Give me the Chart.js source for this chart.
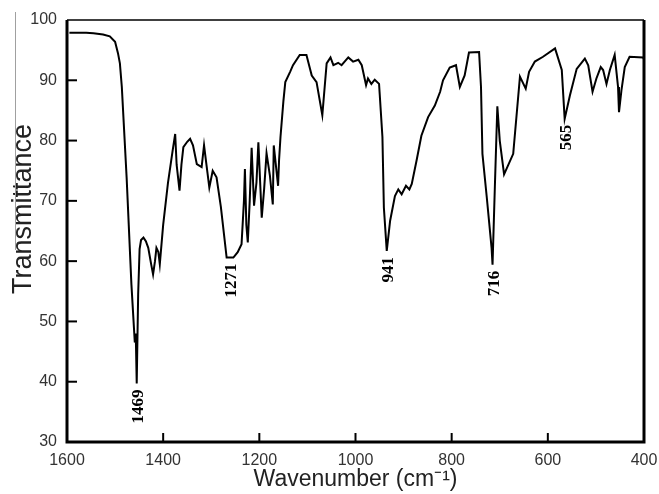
<!DOCTYPE html>
<html>
<head>
<meta charset="utf-8">
<script src="https://cdn.jsdelivr.net/npm/chart.js@4"></script>
<style>
  body { margin: 0; background: #fff; }
  #wrap { width: 659px; height: 494px; }
</style>
</head>
<body>
<div id="wrap"><canvas id="irChart"></canvas></div>
<script>
// spectrum
const wavenumbers = [
    1595, 1560, 1545, 1525, 1511, 1500, 1494, 1490, 1486, 1476, 1466, 1459, 1457, 1455,
    1452, 1449, 1446, 1441, 1436, 1431, 1425, 1421, 1417, 1414, 1410, 1407, 1400, 1390,
    1380, 1375, 1372, 1366, 1362, 1358, 1350, 1344, 1338, 1330, 1320, 1315, 1310, 1304,
    1297, 1289, 1280, 1268, 1254, 1245, 1237, 1232, 1230, 1227, 1224, 1220, 1216, 1211,
    1206, 1202, 1195, 1190, 1185, 1178, 1172, 1170, 1161, 1159, 1156, 1150, 1146, 1136,
    1130, 1116, 1102, 1091, 1081, 1069, 1060, 1052, 1046, 1036, 1029, 1015, 1005, 994,
    987, 978, 974, 967, 960, 951, 944, 941, 935, 928, 918, 911, 904, 895, 888, 883,
    873, 863, 849, 835, 824, 818, 804, 791, 783, 773, 764, 743, 739, 736, 727, 717,
    715, 710, 705, 700, 691, 672, 658, 646, 639, 627, 610, 585, 571, 565, 554, 540,
    523, 516, 507, 499, 490, 485, 478, 471, 461, 454, 452, 447, 440, 430, 402, 400
];
const transmittance = [
    97.9, 97.9, 97.8, 97.6, 97.3, 96.4, 94.5, 92.8, 88.9, 73.9, 56.1, 46.5, 48.0, 39.7,
    54.5, 62.0, 63.5, 63.9, 63.3, 62.2, 59.5, 57.8, 60.0, 62.2, 61.5, 59.5, 66.0, 73.0,
    78.5, 81.1, 76.0, 71.7, 76.0, 78.9, 79.8, 80.3, 79.2, 76.1, 75.6, 79.2, 76.0, 72.2,
    75.0, 73.9, 69.0, 60.6, 60.6, 61.5, 62.8, 70.0, 75.3, 66.0, 63.1, 70.0, 78.8, 69.2,
    73.0, 79.7, 67.2, 72.0, 77.9, 74.2, 69.4, 79.2, 72.5, 76.7, 80.6, 86.5, 89.7, 91.4,
    92.5, 94.2, 94.2, 90.8, 89.7, 84.2, 92.8, 93.8, 92.5, 92.9, 92.5, 93.8, 93.1, 93.4,
    92.5, 89.2, 90.3, 89.4, 90.1, 89.4, 80.6, 68.9, 61.7, 66.7, 70.8, 71.9, 71.1, 72.5, 71.9, 72.8,
    76.7, 80.8, 83.9, 85.8, 88.1, 90.0, 92.1, 92.5, 88.9, 90.8, 94.6, 94.7, 88.9, 77.8, 70.6, 62.2,
    59.4, 72.8, 85.7, 80.0, 74.4, 77.8, 90.6, 88.6, 91.4, 93.1, 93.9, 95.3, 91.7, 83.6, 87.5, 91.9,
    93.6, 92.5, 88.1, 90.3, 92.2, 91.7, 89.4, 91.7, 94.2, 88.9, 84.7, 88.3, 92.2, 93.9, 93.8, 93.5
];

const xTicks = [400, 600, 800, 1000, 1200, 1400, 1600];
const yTicks = [30, 40, 50, 60, 70, 80, 90, 100];

// band labels and where their dips sit in the trace
const peakLabels = ['1469', '1271', '941', '716', '565'];
const peakPositions = [1455, 1261, 935, 715, 565];

const points = wavenumbers.map((w, i) => ({ x: w, y: transmittance[i] }));

function valueAt(w) {
    for (let i = 0; i < wavenumbers.length - 1; i++) {
        const a = wavenumbers[i], b = wavenumbers[i + 1];
        if (w <= a && w >= b) {
            const t = (a - w) / (a - b);
            return transmittance[i] + t * (transmittance[i + 1] - transmittance[i]);
        }
    }
    return transmittance[transmittance.length - 1];
}

// frame, inward ticks, band labels, y title
const framePlugin = {
    id: 'frame',
    afterDatasetsDraw(chart) {
        const { ctx, chartArea: a, scales: { x, y } } = chart;
        ctx.save();
        ctx.strokeStyle = '#000';
        ctx.lineWidth = 1.5;
        ctx.beginPath();
        ctx.moveTo(a.left, a.top);
        ctx.lineTo(a.right, a.top);
        ctx.stroke();
        ctx.lineWidth = 3;
        ctx.beginPath();
        ctx.moveTo(a.left, a.top);
        ctx.lineTo(a.left, a.bottom);
        ctx.lineTo(a.right, a.bottom);
        ctx.lineTo(a.right, a.top);
        ctx.stroke();

        ctx.lineWidth = 2;
        xTicks.slice(1, -1).forEach(v => {
            const px = x.getPixelForValue(v);
            ctx.beginPath();
            ctx.moveTo(px, a.bottom);
            ctx.lineTo(px, a.bottom - 9);
            ctx.stroke();
        });
        yTicks.slice(1, -1).forEach(v => {
            const py = y.getPixelForValue(v);
            ctx.beginPath();
            ctx.moveTo(a.left, py);
            ctx.lineTo(a.left + 10, py);
            ctx.stroke();
        });

        ctx.fillStyle = '#000';
        ctx.font = 'bold 17px "Liberation Serif", "DejaVu Serif", serif';
        ctx.textAlign = 'right';
        ctx.textBaseline = 'middle';
        peakLabels.forEach((txt, i) => {
            const w = peakPositions[i];
            const px = x.getPixelForValue(w) + 2;
            const py = y.getPixelForValue(valueAt(w)) + 6;
            ctx.save();
            ctx.translate(px, py);
            ctx.rotate(-Math.PI / 2);
            ctx.fillText(txt, 0, 0);
            ctx.restore();
        });

        // y axis title
        ctx.fillStyle = '#222';
        ctx.font = '27px "Liberation Sans", Arial, sans-serif';
        ctx.textAlign = 'center';
        ctx.save();
        ctx.translate(24, 209);
        ctx.rotate(-Math.PI / 2);
        ctx.fillText('Transmittance', 0, 0);
        ctx.restore();

        // faint scan line left of the title
        ctx.strokeStyle = '#a0a0a0';
        ctx.lineWidth = 1;
        ctx.beginPath();
        ctx.moveTo(15.5, 12);
        ctx.lineTo(15.5, 250);
        ctx.stroke();
        ctx.restore();
    }
};

const ctx = document.getElementById('irChart').getContext('2d');
new Chart(ctx, {
    type: 'line',
    data: {
        datasets: [{
            label: 'Transmittance',
            data: points,
            borderColor: '#000',
            borderWidth: 2,
            pointRadius: 0,
            tension: 0,
            fill: false
        }]
    },
    options: {
        responsive: true,
        maintainAspectRatio: false,
        animation: false,
        layout: { padding: { left: 0, right: 15, top: 20, bottom: 0 } },
        plugins: {
            legend: { display: false },
            tooltip: { enabled: false }
        },
        scales: {
            x: {
                type: 'linear',
                reverse: true,
                min: 400,
                max: 1600,
                afterBuildTicks: scale => { scale.ticks = xTicks.map(v => ({ value: v })); },
                afterFit: scale => { scale.height = 52; },
                grid: { display: false, drawTicks: false },
                border: { display: false },
                ticks: {
                    padding: 9,
                    color: '#333',
                    font: { family: '"Liberation Sans", Arial, sans-serif', size: 16 },
                    maxRotation: 0,
                    autoSkip: false,
                    callback: value => String(value)
                },
                title: {
                    display: true,
                    text: 'Wavenumber (cm⁻¹)',
                    color: '#222',
                    font: { family: '"Liberation Sans", Arial, sans-serif', size: 23 },
                    padding: { top: 0, bottom: 1 }
                }
            },
            y: {
                type: 'linear',
                min: 30,
                max: 100,
                afterBuildTicks: scale => { scale.ticks = yTicks.map(v => ({ value: v })); },
                afterFit: scale => { scale.width = 67; },
                grid: { display: false, drawTicks: false },
                border: { display: false },
                ticks: {
                    padding: 10,
                    color: '#333',
                    font: { family: '"Liberation Sans", Arial, sans-serif', size: 16 },
                    callback: value => String(value)
                }
            }
        }
    },
    plugins: [framePlugin]
});
</script>
</body>
</html>
